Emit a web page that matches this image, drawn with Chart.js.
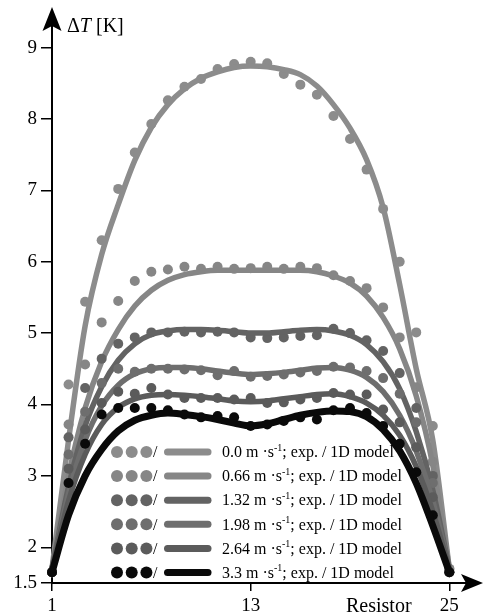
<!DOCTYPE html>
<html>
<head>
<meta charset="utf-8">
<script src="https://cdn.jsdelivr.net/npm/chart.js@4.4.1/dist/chart.umd.min.js"></script>
<style>
  body { margin: 0; background: #fff; }
  #wrap { width: 483px; height: 616px; }
</style>
</head>
<body>
<div id="wrap"><canvas id="grafico"></canvas></div>
<script>
const resistors = [1, 2, 3, 4, 5, 6, 7, 8, 9, 10, 11, 12, 13, 14, 15, 16, 17, 18, 19, 20, 21, 22, 23, 24, 25];
const xTicks = [1, 13, 25];
const yTicks = [1.5, 2, 3, 4, 5, 6, 7, 8, 9];
const speeds = ['0.0', '0.66', '1.32', '1.98', '2.64', '3.3'];

// measured points (exp.)
const exp00 = [1.65, 4.28, 5.44, 6.30, 7.02, 7.53, 7.93, 8.26, 8.45, 8.56, 8.70, 8.77, 8.80, 8.78, 8.63, 8.48, 8.34, 8.04, 7.72, 7.29, 6.74, 6.00, 5.01, 3.70, 1.70];
const exp066 = [1.65, 3.72, 4.56, 5.15, 5.45, 5.73, 5.86, 5.89, 5.93, 5.90, 5.93, 5.90, 5.91, 5.93, 5.90, 5.93, 5.91, 5.81, 5.73, 5.63, 5.36, 4.94, 4.24, 3.20, 1.70];
const exp132 = [1.65, 3.54, 4.23, 4.64, 4.85, 4.94, 5.01, 5.01, 5.02, 5.01, 5.02, 5.01, 4.94, 4.93, 4.94, 4.96, 4.97, 5.06, 5.00, 4.90, 4.75, 4.44, 3.95, 3.00, 1.65];
const exp198 = [1.65, 3.30, 3.90, 4.30, 4.50, 4.46, 4.50, 4.50, 4.49, 4.48, 4.41, 4.47, 4.39, 4.40, 4.42, 4.45, 4.47, 4.53, 4.52, 4.47, 4.37, 4.15, 3.75, 2.90, 1.65];
const exp264 = [1.65, 3.10, 3.65, 4.02, 4.18, 4.15, 4.23, 4.14, 4.09, 4.09, 4.09, 4.07, 4.09, 4.02, 4.03, 4.07, 4.09, 4.16, 4.14, 4.14, 3.93, 3.75, 3.40, 2.70, 1.65];
const exp33 = [1.65, 2.90, 3.45, 3.86, 3.95, 3.95, 3.95, 3.92, 3.86, 3.82, 3.84, 3.82, 3.70, 3.72, 3.77, 3.82, 3.79, 3.92, 3.95, 3.88, 3.70, 3.45, 3.05, 2.45, 1.65];

// 1D model
const model00 = [1.70, 3.50, 5.10, 6.10, 6.80, 7.42, 7.88, 8.20, 8.42, 8.57, 8.66, 8.72, 8.74, 8.73, 8.69, 8.62, 8.46, 8.20, 7.87, 7.43, 6.76, 5.68, 4.50, 3.50, 1.70];
const model066 = [1.70, 3.00, 3.95, 4.60, 5.05, 5.38, 5.60, 5.74, 5.82, 5.86, 5.88, 5.88, 5.88, 5.88, 5.88, 5.88, 5.86, 5.80, 5.70, 5.52, 5.22, 4.78, 4.12, 3.15, 1.70];
const model132 = [1.70, 2.85, 3.70, 4.25, 4.62, 4.85, 4.98, 5.03, 5.05, 5.05, 5.04, 5.02, 5.00, 5.00, 5.02, 5.04, 5.05, 5.03, 4.97, 4.84, 4.60, 4.22, 3.62, 2.80, 1.70];
const model198 = [1.70, 2.75, 3.50, 3.98, 4.27, 4.43, 4.50, 4.52, 4.52, 4.50, 4.47, 4.44, 4.42, 4.43, 4.45, 4.48, 4.51, 4.52, 4.48, 4.38, 4.18, 3.85, 3.35, 2.65, 1.70];
const model264 = [1.70, 2.65, 3.30, 3.72, 3.96, 4.08, 4.13, 4.14, 4.13, 4.11, 4.08, 4.05, 4.04, 4.05, 4.08, 4.11, 4.14, 4.15, 4.11, 4.02, 3.85, 3.57, 3.13, 2.50, 1.70];
const model33 = [1.65, 2.45, 3.00, 3.37, 3.63, 3.78, 3.85, 3.88, 3.86, 3.83, 3.79, 3.74, 3.70, 3.73, 3.79, 3.85, 3.89, 3.91, 3.90, 3.83, 3.65, 3.35, 2.90, 2.30, 1.65];

const expSeries = [exp00, exp066, exp132, exp198, exp264, exp33];
const modelSeries = [model00, model066, model132, model198, model264, model33];

const COLORES = ['#8c8c8c', '#868686', '#636363', '#6e6e6e', '#5b5b5b', '#0a0a0a'];
const SERIF = '"Liberation Serif", "DejaVu Serif", serif';

let datasets = [];
speeds.forEach((v, k) => {
  datasets.push({
    label: v + ' model',
    data: resistors.map((r, i) => ({ x: r, y: modelSeries[k][i] })),
    borderColor: COLORES[k],
    borderWidth: k === 5 ? 7 : 5.5,
    pointRadius: 0,
    cubicInterpolationMode: 'monotone',
    fill: false,
    clip: false,
    order: (5 - k) * 2
  });
  datasets.push({
    label: v + ' exp.',
    data: resistors.map((r, i) => ({ x: r, y: expSeries[k][i] })),
    showLine: false,
    pointRadius: 5,
    pointBorderWidth: 0,
    pointBackgroundColor: COLORES[k],
    borderColor: COLORES[k],
    clip: false,
    order: (5 - k) * 2 + 1
  });
});

// arrows, axis names and the legend
const extras = {
  id: 'extras',
  afterDraw(chart) {
    const ctx = chart.ctx;
    const a = chart.chartArea;
    ctx.save();
    ctx.fillStyle = '#000';
    // y arrow
    ctx.beginPath();
    ctx.moveTo(a.left, 7);
    ctx.lineTo(a.left - 9.5, 31);
    ctx.lineTo(a.left, 26);
    ctx.lineTo(a.left + 9.5, 31);
    ctx.closePath();
    ctx.fill();
    // x arrow
    ctx.beginPath();
    ctx.moveTo(483, a.bottom);
    ctx.lineTo(461, a.bottom - 9);
    ctx.lineTo(466, a.bottom);
    ctx.lineTo(461, a.bottom + 9);
    ctx.closePath();
    ctx.fill();

    // ΔT [K]
    ctx.textBaseline = 'alphabetic';
    ctx.textAlign = 'left';
    let x = 67;
    ctx.font = '20px ' + SERIF;
    ctx.fillText('Δ', x, 32);
    x += ctx.measureText('Δ').width;
    ctx.font = 'italic 20px ' + SERIF;
    ctx.fillText('T', x, 32);
    x += ctx.measureText('T').width;
    ctx.font = '20px ' + SERIF;
    ctx.fillText(' [K]', x, 32);

    ctx.font = '20px ' + SERIF;
    ctx.fillText('Resistor', 346, 612);

    // legend
    speeds.forEach((v, k) => {
      const y = 452 + k * 24.1;
      ctx.fillStyle = COLORES[k];
      ctx.strokeStyle = COLORES[k];
      for (let j = 0; j < 3; j++) {
        ctx.beginPath();
        ctx.arc(117 + j * 14.7, y, 6, 0, Math.PI * 2);
        ctx.fill();
      }
      ctx.lineWidth = 7;
      ctx.lineCap = 'round';
      ctx.beginPath();
      ctx.moveTo(167.5, y);
      ctx.lineTo(208, y);
      ctx.stroke();
      ctx.fillStyle = '#000';
      ctx.textBaseline = 'middle';
      ctx.font = '16px ' + SERIF;
      ctx.fillText('/', 153, y + 1);
      let tx = 222;
      const t1 = v + ' m ·s';
      ctx.fillText(t1, tx, y + 1);
      tx += ctx.measureText(t1).width;
      ctx.font = '10px ' + SERIF;
      ctx.fillText('-1', tx, y - 4);
      tx += ctx.measureText('-1').width;
      ctx.font = '16px ' + SERIF;
      ctx.fillText('; exp. / 1D model', tx, y + 1);
    });
    ctx.restore();
  }
};

const ctx = document.getElementById('grafico').getContext('2d');
const grafico = new Chart(ctx, {
  type: 'line',
  data: { datasets: datasets },
  options: {
    responsive: true,
    maintainAspectRatio: false,
    animation: false,
    layout: { padding: { top: 8, right: 0, bottom: 0, left: 0 } },
    plugins: {
      legend: { display: false },
      tooltip: { enabled: false }
    },
    scales: {
      x: {
        type: 'linear',
        min: 1,
        max: 26.73,
        afterBuildTicks: s => { s.ticks = xTicks.map(v => ({ value: v })); },
        afterFit: s => { s.height = 33; },
        grid: { drawOnChartArea: false, tickLength: 8, color: '#000', lineWidth: 1.5 },
        border: { color: '#000', width: 2 },
        ticks: { color: '#000', font: { family: SERIF, size: 19 }, padding: 4, maxRotation: 0, autoSkip: false }
      },
      y: {
        min: 1.5,
        max: 9.45,
        afterBuildTicks: s => { s.ticks = yTicks.map(v => ({ value: v })); },
        afterFit: s => { s.width = 52; },
        grid: { drawOnChartArea: false, tickLength: 11, color: '#000', lineWidth: 1.5 },
        border: { color: '#000', width: 2 },
        ticks: { color: '#000', font: { family: SERIF, size: 19 }, padding: 4, callback: v => String(v) }
      }
    }
  },
  plugins: [extras]
});
</script>
</body>
</html>
